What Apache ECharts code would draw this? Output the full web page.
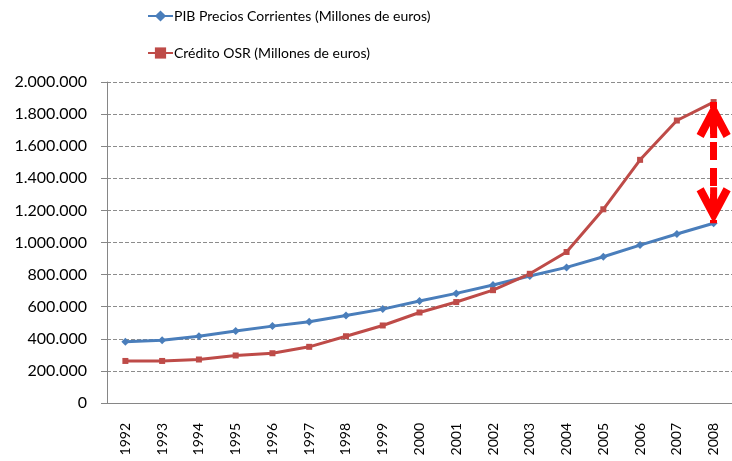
<!DOCTYPE html>
<html>
<head>
<meta charset="utf-8">
<script src="https://cdn.jsdelivr.net/npm/echarts@6/dist/echarts.min.js"></script>
<style>
  html, body { margin: 0; padding: 0; background: #fff; }
  #chart { width: 732px; height: 461px; }
</style>
</head>
<body>
<div id="chart"></div>
<script>
  // datos
  var years = ['1992', '1993', '1994', '1995', '1996', '1997', '1998', '1999', '2000',
    '2001', '2002', '2003', '2004', '2005', '2006', '2007', '2008'];
  var pib = [381000, 391000, 416000, 449000, 479000, 506000, 545000, 585000, 635000,
    683000, 735000, 791000, 845000, 911000, 984000, 1053000, 1120000];
  var credito = [262000, 262000, 271000, 296000, 310000, 350000, 416000, 483000, 564000,
    629000, 703000, 805000, 941000, 1207000, 1515000, 1760000, 1875000];
  var yTicks = { min: 0, max: 2000000, interval: 200000 };

  var nameA = 'PIB Precios Corrientes (Millones de euros)';
  var nameB = 'Crédito OSR (Millones de euros)';

  // punta de flecha con tallo, centrada en la punta
  var arrowHead = 'path://M17 0 L17.2 0 L17 0.2 Z M17 36 L34 68 L27 72 L20.5 59.8 L20.5 72 L13.5 72 L13.5 59.8 L7 72 L0 68 Z';

  function miles(v) {
    return String(v).replace(/\B(?=(\d{3})+(?!\d))/g, '.');
  }

  var chart = echarts.init(document.getElementById('chart'));
  var last = years.length - 1;

  var option = {
    animation: false,
    color: ['#4A7EBB', '#BE4B48'],
    textStyle: { fontFamily: 'Lato' },
    legend: {
      orient: 'vertical',
      left: 142,
      top: 4,
      itemWidth: 25,
      itemHeight: 14,
      itemGap: 23,
      data: [nameA, nameB],
      textStyle: {
        fontFamily: 'Lato',
        fontSize: 14,
        color: '#000',
        padding: [0, 0, 0, -4]
      }
    },
    grid: {
      left: 107,
      right: -6,
      top: 82,
      bottom: 58
    },
    xAxis: {
      type: 'category',
      data: years,
      boundaryGap: true,
      splitLine: { show: false },
      axisLine: { lineStyle: { color: '#868686', width: 1 } },
      axisTick: { length: 5, lineStyle: { color: '#868686' } },
      axisLabel: {
        rotate: 90,
        margin: 20,
        fontFamily: 'Lato',
        fontSize: 14,
        color: '#000'
      }
    },
    yAxis: {
      type: 'value',
      min: yTicks.min,
      max: yTicks.max,
      interval: yTicks.interval,
      axisLine: { show: true, lineStyle: { color: '#868686', width: 1 } },
      axisTick: { show: true, length: 6, lineStyle: { color: '#868686' } },
      axisLabel: {
        margin: 20,
        formatter: miles,
        fontFamily: 'Lato',
        fontSize: 16,
        color: '#000'
      },
      splitLine: {
        lineStyle: { color: '#8c8c8c', type: [4, 2], width: 1 }
      }
    },
    series: [{
      name: nameA,
      type: 'line',
      data: pib,
      symbol: 'diamond',
      symbolSize: 8,
      lineStyle: { width: 3 },
      itemStyle: { color: '#4A7EBB' }
    }, {
      name: nameB,
      type: 'line',
      data: credito,
      symbol: 'rect',
      symbolSize: 6,
      lineStyle: { width: 3 },
      itemStyle: { color: '#BE4B48' },
      markLine: {
        silent: true,
        animation: false,
        label: { show: false },
        lineStyle: {
          color: '#FF0000',
          width: 7,
          type: [18, 8],
          dashOffset: 12,
          cap: 'butt'
        },
        emphasis: { disabled: true },
        data: [[
          { coord: [years[last], credito[last]], symbol: arrowHead, symbolSize: [34, 72] },
          { coord: [years[last], pib[last]], symbol: arrowHead, symbolSize: [34, 72] }
        ]]
      }
    }]
  };

  chart.setOption(option);
</script>
</body>
</html>
